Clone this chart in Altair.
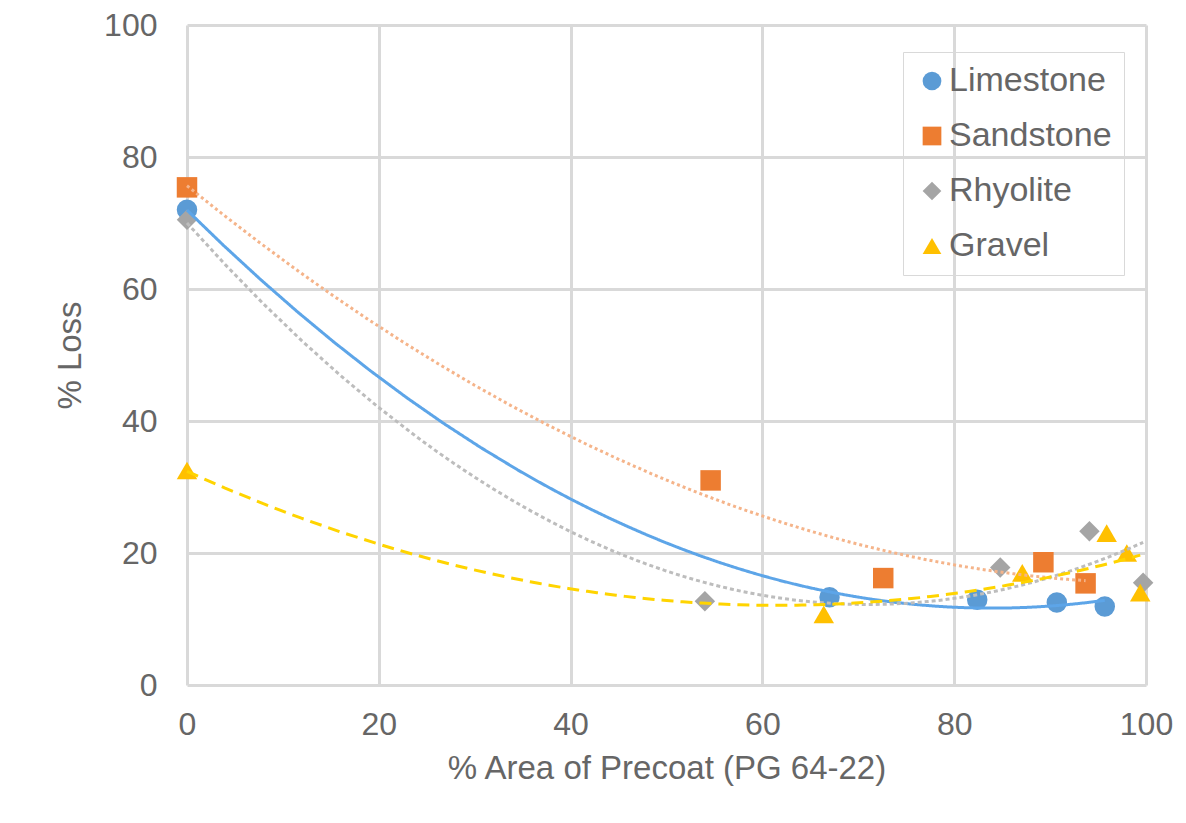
import altair as alt
import pandas as pd

series_names = ["Limestone", "Sandstone", "Rhyolite", "Gravel"]

limestone_x = [0, 67, 82.4, 90.7, 95.7]
limestone_y = [72, 13.3, 12.9, 12.5, 11.9]
sandstone_x = [0, 54.6, 72.6, 89.3, 93.7]
sandstone_y = [75.4, 31, 16.2, 18.6, 15.4]
rhyolite_x = [0, 54, 84.8, 94.1, 99.7]
rhyolite_y = [70.5, 12.7, 17.8, 23.3, 15.5]
gravel_x = [0, 66.4, 87.1, 95.9, 98, 99.4]
gravel_y = [32.5, 10.7, 17, 23, 20, 14]

marker_colors = ["#5B9BD5", "#ED7D31", "#A5A5A5", "#FFC000"]
marker_shapes = ["circle", "square", "diamond", "triangle-up"]
line_colors = ["#5DA5E8", "#F5B48A", "#BDBDBD", "#FFD400"]
line_dashes = [[1, 0], [3, 3], [4, 3], [12, 7]]

rows = []
for name, xs, ys in [
    ("Limestone", limestone_x, limestone_y),
    ("Sandstone", sandstone_x, sandstone_y),
    ("Rhyolite", rhyolite_x, rhyolite_y),
    ("Gravel", gravel_x, gravel_y),
]:
    for xv, yv in zip(xs, ys):
        rows.append({"series": name, "x": xv, "y": yv})
df = pd.DataFrame(rows)

FONT = "Liberation Sans"
TXT = "#666666"

x_enc = alt.X(
    "x:Q",
    scale=alt.Scale(domain=[0, 100], nice=False),
    axis=alt.Axis(
        title="% Area of Precoat (PG 64-22)",
        values=[0, 20, 40, 60, 80, 100],
        grid=True,
        gridColor="#d9d9d9",
        gridWidth=3,
        domain=False,
        ticks=False,
        labelFlush=False,
        labelFont=FONT,
        labelFontSize=32,
        labelColor=TXT,
        labelPadding=24,
        titleFont=FONT,
        titleFontSize=33,
        titleFontWeight="normal",
        titleColor=TXT,
        titlePadding=12,
    ),
)
y_enc = alt.Y(
    "y:Q",
    scale=alt.Scale(domain=[0, 100], nice=False),
    axis=alt.Axis(
        title="% Loss",
        values=[0, 20, 40, 60, 80, 100],
        grid=True,
        gridColor="#d9d9d9",
        gridWidth=3,
        domain=False,
        ticks=False,
        labelFlush=False,
        labelFont=FONT,
        labelFontSize=32,
        labelColor=TXT,
        labelPadding=30,
        titleFont=FONT,
        titleFontSize=33,
        titleFontWeight="normal",
        titleColor=TXT,
        titlePadding=16,
    ),
)

base = alt.Chart(df)

points = base.mark_point(filled=True, opacity=1, size=420).encode(
    x=x_enc,
    y=y_enc,
    color=alt.Color(
        "series:N",
        scale=alt.Scale(domain=series_names, range=marker_colors),
        legend=alt.Legend(
            title=None,
            orient="none",
            legendX=716,
            legendY=27,
            labelFont=FONT,
            labelFontSize=34,
            labelColor=TXT,
            labelLimit=400,
            symbolSize=350,
            symbolStrokeWidth=0,
            rowPadding=21,
            padding=12,
            strokeColor="#d9d9d9",
            labelOffset=0,
        ),
    ),
    shape=alt.Shape(
        "series:N",
        scale=alt.Scale(domain=series_names, range=marker_shapes),
    ),
)

lines = []
for name, lc, dash in zip(series_names, line_colors, line_dashes):
    lines.append(
        base.transform_filter(alt.datum.series == name)
        .transform_regression("x", "y", method="poly", order=2)
        .mark_line(color=lc, strokeWidth=3, strokeDash=dash)
        .encode(x="x:Q", y="y:Q")
    )

chart = (
    alt.layer(points, *lines)
    .properties(
        width=959,
        height=660,
        autosize=alt.AutoSizeParams(type="none"),
        padding={"left": 179, "top": 17, "right": 32, "bottom": 130},
    )
    .configure_view(stroke=None)
)

chart.save("out.html", embed_options={"renderer": "svg", "actions": False})
